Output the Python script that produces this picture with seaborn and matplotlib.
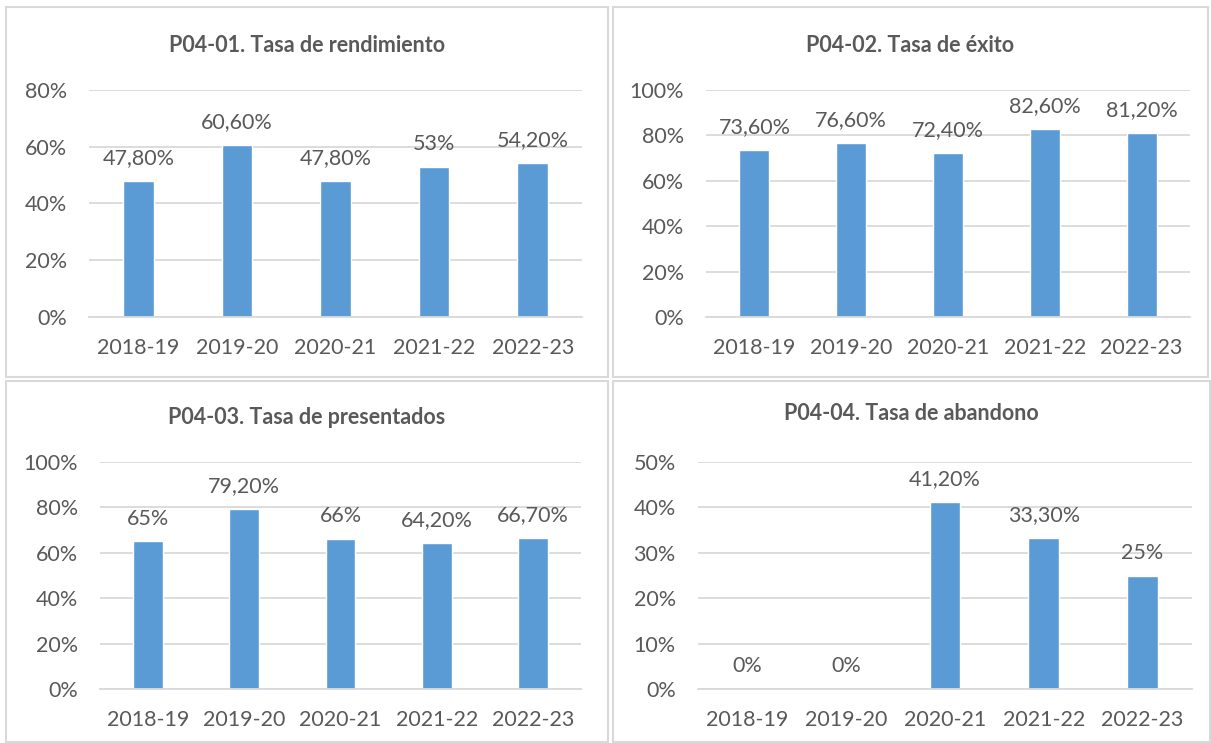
import matplotlib
matplotlib.use("Agg")
import matplotlib.pyplot as plt
import matplotlib.patches as mpatches
import seaborn as sns
import pandas as pd
from matplotlib.ticker import FuncFormatter, MultipleLocator

cursos = ["2018-19", "2019-20", "2020-21", "2021-22", "2022-23"]
rendimiento = [47.8, 60.6, 47.8, 53.0, 54.2]
exito = [73.6, 76.6, 72.4, 82.6, 81.2]
presentados = [65.0, 79.2, 66.0, 64.2, 66.7]
abandono = [0.0, 0.0, 41.2, 33.3, 25.0]

titles = ["P04-01. Tasa de rendimiento", "P04-02. Tasa de éxito",
          "P04-03. Tasa de presentados", "P04-04. Tasa de abandono"]
series = [rendimiento, exito, presentados, abandono]
ymax = [80, 100, 100, 50]
ystep = [20, 20, 20, 10]

sns.set_theme(style="white")
plt.rcParams['font.family'] = ['Lato', 'DejaVu Sans']

BAR = "#5B9BD5"
TXT = "#595959"
GRID = "#D9D9D9"

W, H = 1211, 743
fig = plt.figure(figsize=(W / 100, H / 100), dpi=100)

def fx(px):
    return px / W

def fy(py):
    return 1 - py / H

# panel borders (pixel boxes)
boxes = [(6, 7, 608, 377), (613, 7, 1208, 377), (6, 381, 608, 742), (613, 381, 1210, 742)]
for (x0, y0, x1, y1) in boxes:
    fig.patches.append(mpatches.Rectangle((fx(x0), fy(y1)), fx(x1 - x0), (y1 - y0) / H,
                                          transform=fig.transFigure, fill=False,
                                          edgecolor=GRID, linewidth=1.5))

# axes pixel extents: left, right, top(ymax), bottom(0)
axpix = [(89, 582, 90, 317), (706, 1190, 90, 317), (100, 581, 462, 689), (698, 1192, 462, 689)]
title_y = [45, 45, 417, 413]

def fmt_label(v):
    if abs(v - round(v)) < 1e-9:
        return f"{int(round(v))}%"
    return f"{v:.2f}".replace(".", ",") + "%"

for i in range(4):
    l, r, t, b = axpix[i]
    ax = fig.add_axes([fx(l), fy(b), (r - l) / W, (b - t) / H])
    df = pd.DataFrame({"curso": cursos, "valor": series[i]})
    sns.barplot(data=df, x="curso", y="valor", color=BAR, saturation=1, width=0.31, ax=ax)
    ax.set_xlim(-0.5, 4.5)
    ax.set_ylim(0, ymax[i])
    ax.yaxis.set_major_locator(MultipleLocator(ystep[i]))
    ax.yaxis.set_major_formatter(FuncFormatter(lambda v, p: f"{int(v)}%"))
    ax.grid(axis="y", color=GRID, linewidth=1.3)
    ax.set_axisbelow(True)
    for s in ["top", "right", "left"]:
        ax.spines[s].set_visible(False)
    ax.spines["bottom"].set_color(GRID)
    ax.spines["bottom"].set_linewidth(1.3)
    ax.set_xlabel("")
    ax.set_ylabel("")
    ax.tick_params(axis="both", length=0, labelsize=15.5, colors=TXT)
    ax.tick_params(axis="x", pad=15)
    ax.tick_params(axis="y", pad=16)
    for p, v in zip(ax.patches, series[i]):
        ax.annotate(fmt_label(v), (p.get_x() + p.get_width() / 2, p.get_height()),
                    xytext=(0, 16.5), textcoords="offset points", ha="center", va="center",
                    fontsize=15.5, color=TXT, annotation_clip=False)
    cx = (boxes[i][0] + boxes[i][2]) / 2
    fig.text(fx(cx), fy(title_y[i]), titles[i], ha="center", va="center",
             fontsize=15.5, fontweight="bold", color=TXT)

fig.savefig("out.png", dpi=100, facecolor="white")
